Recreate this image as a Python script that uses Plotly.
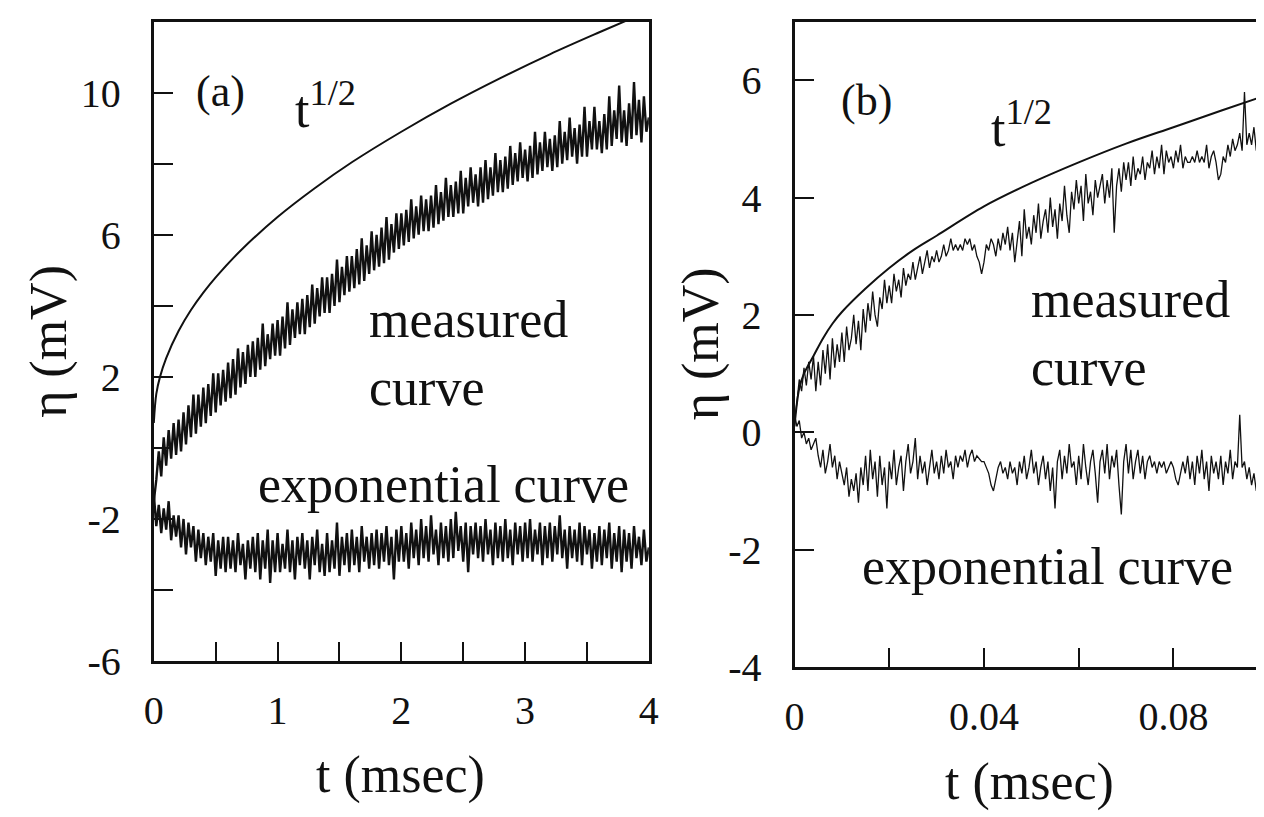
import plotly.graph_objects as go

# ---------------- panel (a) data ----------------
ta_start, ta_step = 0.0, 0.02   # sampling grid of the traces, msec
meas_a = [
    -1.5, -0.9, -0.1, -0.8, 0.3, -0.5, 0.5, -0.3, 0.7, -0.2,
    0.8, -0.1, 1.0, 0.1, 1.2, 0.3, 1.5, 0.4, 1.5, 0.6,
    1.7, 0.7, 1.8, 0.9, 2.1, 1.0, 2.1, 1.2, 2.2, 1.3,
    2.4, 1.4, 2.5, 1.5, 2.8, 1.7, 2.7, 1.8, 2.9, 2.0,
    3.0, 2.0, 3.1, 2.2, 3.5, 2.3, 3.2, 2.5, 3.5, 2.6,
    3.6, 2.6, 3.7, 2.8, 4.1, 2.9, 3.9, 3.1, 4.1, 3.2,
    4.2, 3.2, 4.3, 3.4, 4.6, 3.5, 4.5, 3.7, 4.8, 3.8,
    4.8, 3.8, 4.9, 4.0, 5.3, 4.1, 5.1, 4.3, 5.4, 4.4,
    5.4, 4.5, 5.6, 4.6, 5.9, 4.7, 5.7, 4.9, 6.1, 5.0,
    6.0, 5.1, 6.2, 5.2, 6.5, 5.3, 6.3, 5.5, 6.6, 5.6,
    6.6, 5.7, 6.7, 5.8, 7.0, 5.9, 6.8, 6.0, 7.1, 6.1,
    7.0, 6.1, 7.1, 6.2, 7.4, 6.3, 7.2, 6.4, 7.6, 6.5,
    7.4, 6.5, 7.5, 6.6, 7.8, 6.6, 7.6, 6.8, 7.9, 6.9,
    7.7, 6.8, 7.9, 6.9, 8.1, 7.0, 7.9, 7.1, 8.3, 7.2,
    8.1, 7.2, 8.2, 7.3, 8.5, 7.4, 8.3, 7.5, 8.6, 7.6,
    8.4, 7.5, 8.5, 7.6, 8.9, 7.7, 8.6, 7.8, 8.9, 7.9,
    8.7, 7.8, 8.8, 7.9, 9.2, 8.0, 8.9, 8.1, 9.3, 8.2,
    9.0, 8.0, 9.1, 8.2, 9.6, 8.2, 9.2, 8.4, 9.6, 8.4,
    9.2, 8.3, 9.4, 8.4, 9.9, 8.5, 9.5, 8.7, 10.2, 8.6,
    9.5, 8.5, 9.7, 8.7, 10.3, 8.8, 9.8, 8.6, 9.9, 8.9,
    9.3,
]
expo_a = [
    -1.3, -2.2, -1.6, -2.4, -1.7, -2.3, -1.5, -2.6, -1.9, -2.5,
    -1.9, -2.8, -2.0, -3.0, -2.1, -2.8, -2.2, -3.2, -2.3, -3.1,
    -2.4, -3.3, -2.5, -3.2, -2.4, -3.6, -2.6, -3.4, -2.5, -3.5,
    -2.5, -3.4, -2.6, -3.5, -2.4, -3.3, -2.7, -3.7, -2.6, -3.4,
    -2.5, -3.5, -2.4, -3.7, -2.6, -3.4, -2.3, -3.8, -2.6, -3.5,
    -2.4, -3.5, -2.7, -3.4, -2.3, -3.5, -2.6, -3.7, -2.5, -3.3,
    -2.4, -3.4, -2.6, -3.7, -2.5, -3.3, -2.3, -3.5, -2.7, -3.6,
    -2.4, -3.5, -2.6, -3.4, -2.1, -3.6, -2.5, -3.3, -2.4, -3.5,
    -2.3, -3.3, -2.5, -3.5, -2.2, -3.2, -2.5, -3.4, -2.4, -3.3,
    -2.3, -3.4, -2.4, -3.2, -2.2, -3.3, -2.5, -3.7, -2.3, -3.2,
    -2.2, -3.2, -2.4, -3.4, -2.1, -3.1, -2.3, -3.3, -2.0, -3.1,
    -2.2, -3.2, -1.9, -3.0, -2.3, -3.3, -2.1, -3.1, -2.2, -3.2,
    -2.0, -3.1, -1.8, -2.9, -2.2, -3.2, -2.1, -3.5, -2.2, -3.0,
    -2.1, -3.1, -2.2, -3.2, -2.0, -3.0, -2.3, -3.3, -2.1, -3.1,
    -2.2, -3.2, -2.0, -3.1, -2.3, -3.3, -2.1, -3.0, -2.2, -3.2,
    -2.1, -3.1, -2.0, -3.2, -2.3, -3.0, -2.1, -3.3, -2.2, -3.1,
    -2.1, -3.2, -2.2, -3.0, -1.9, -3.1, -2.3, -3.4, -2.2, -3.1,
    -2.3, -3.2, -2.1, -3.3, -2.2, -3.0, -2.3, -3.4, -2.4, -3.2,
    -2.2, -3.3, -2.3, -3.1, -2.1, -3.4, -2.4, -3.2, -2.2, -3.5,
    -2.3, -3.2, -2.4, -3.4, -2.2, -3.1, -2.5, -3.3, -2.3, -3.2,
    -2.8,
]
sqrt_a_t = [0, 0.02, 0.05, 0.1, 0.2, 0.3, 0.4, 0.5, 0.7, 1.0, 1.3, 1.6,
            2.0, 2.4, 2.8, 3.2, 3.6, 4.0]
sqrt_a_v = [0.7, 1.52, 2.0, 2.53, 3.29, 3.88, 4.37, 4.80, 5.55, 6.5, 7.31,
            8.04, 8.90, 9.69, 10.41, 11.08, 11.70, 12.3]

# ---------------- panel (b) data ----------------
tb_start, tb_step = 0.0, 0.0005
meas_b = [
    0.2, 0.5, 0.9, 0.7, 1.1, 0.8, 1.2, 0.9, 1.3, 0.7,
    1.2, 0.8, 1.4, 1.0, 1.5, 0.9, 1.6, 1.1, 1.5, 1.2,
    1.7, 1.2, 1.8, 1.4, 1.6, 2.0, 1.5, 1.9, 1.4, 2.1,
    1.7, 2.2, 1.9, 2.4, 2.0, 1.8, 2.3, 2.1, 2.6, 2.2,
    2.5, 2.2, 2.7, 2.4, 2.6, 2.3, 2.8, 2.5, 2.7, 2.6,
    2.9, 2.6, 2.8, 3.0, 2.7, 2.9, 3.1, 2.8, 3.0, 2.9,
    3.1, 2.9, 3.0, 3.2, 3.0, 3.1, 3.3, 3.1, 3.2, 3.1,
    3.2, 3.1, 3.3, 3.2, 3.3, 3.1, 3.2, 3.0, 2.9, 2.7,
    2.9, 3.2, 3.1, 3.3, 3.2, 3.0, 3.3, 3.1, 3.4, 3.2,
    3.5, 3.1, 3.4, 2.9, 3.3, 3.6, 3.0, 3.8, 3.3, 3.5,
    3.2, 3.7, 3.4, 3.9, 3.3, 3.6, 3.8, 3.4, 4.0, 3.5,
    3.8, 3.3, 3.9, 3.6, 4.2, 3.7, 3.4, 4.1, 3.8, 4.3,
    3.9, 4.2, 3.6, 4.4, 3.9, 4.1, 3.7, 4.3, 4.0, 4.2,
    4.4, 3.9, 4.3, 4.0, 4.5, 3.4, 4.2, 4.5, 4.1, 4.6,
    4.3, 4.6, 4.2, 4.7, 4.3, 4.5, 4.4, 4.7, 4.3, 4.6,
    4.5, 4.8, 4.4, 4.7, 4.5, 4.9, 4.4, 4.8, 4.6, 4.7,
    4.5, 4.8, 4.6, 4.9, 4.5, 4.7, 4.6, 4.6, 4.7, 4.6,
    4.8, 4.6, 4.7, 4.6, 4.9, 4.5, 4.7, 4.8, 4.6, 4.3,
    4.4, 4.7, 4.6, 4.9, 4.7, 5.0, 4.8, 4.9, 5.1, 4.8,
    5.8, 4.9, 5.1, 4.9, 5.2, 4.8, 5.1, 5.0,
]
expo_b = [
    0.3, 0.1, 0.2, -0.1, 0.0, -0.2, -0.1, -0.3, -0.2, -0.1,
    -0.4, -0.6, -0.3, -0.7, -0.5, -0.2, -0.6, -0.4, -0.8, -0.5,
    -0.7, -0.9, -0.6, -1.1, -0.8, -1.0, -0.7, -1.2, -0.6, -0.9,
    -0.4, -1.0, -0.3, -0.8, -0.5, -1.1, -0.4, -0.9, -0.6, -1.3,
    -0.5, -0.8, -0.3, -0.9, -0.6, -0.4, -1.0, -0.5, -0.2, -0.7,
    -0.5, -0.1, -0.8, -0.4, -0.7, -0.5, -0.9, -0.6, -0.3, -0.7,
    -0.5, -0.8, -0.4, -0.7, -0.3, -0.6, -0.5, -0.8, -0.4, -0.6,
    -0.4, -0.5, -0.3, -0.6, -0.4, -0.3, -0.5, -0.4, -0.45, -0.5,
    -0.5, -0.6, -0.7, -0.9, -1.0, -0.8, -0.6, -0.5, -0.7, -0.6,
    -0.8, -0.5, -0.7, -0.6, -0.9, -0.5, -0.7, -0.4, -0.8, -0.6,
    -0.3, -0.7, -0.5, -0.9, -0.6, -0.4, -0.8, -0.5, -1.0, -0.6,
    -1.3, -0.5, -0.3, -0.8, -0.4, -0.7, -0.2, -0.6, -0.5, -0.9,
    -0.4, -0.8, -0.2, -0.6, -0.9, -0.5, -0.3, -0.7, -1.2, -0.5,
    -0.3, -0.7, -0.2, -0.8, -0.4, -0.6, -0.3, -0.9, -1.4, -0.5,
    -0.2, -0.7, -0.3, -0.8, -0.5, -0.3, -0.7, -0.4, -0.8, -0.5,
    -0.4, -0.6, -0.5, -0.7, -0.5, -0.6, -0.5, -0.7, -0.6, -0.5,
    -0.6, -0.8, -0.9, -0.7, -0.5, -0.7, -0.4, -0.8, -0.5, -0.9,
    -0.4, -0.7, -0.3, -0.8, -0.5, -1.0, -0.4, -0.7, -0.5, -0.8,
    -0.4, -0.9, -0.5, -0.7, -0.3, -0.8, -0.5, -0.6, 0.3, -0.6,
    -0.5, -0.8, -0.6, -0.9, -0.7, -1.0, -0.8, -0.9,
]
sqrt_b_t = [0, 0.001, 0.002, 0.004, 0.006, 0.008, 0.01, 0.015, 0.02, 0.025,
            0.03, 0.04, 0.05, 0.06, 0.07, 0.08, 0.09, 0.0987]
sqrt_b_v = [0.1, 0.75, 1.0, 1.3, 1.6, 1.85, 2.05, 2.45, 2.8, 3.1,
            3.35, 3.85, 4.25, 4.6, 4.92, 5.2, 5.48, 5.72]

# tick definitions (labelled ticks; unlabelled ones drawn as minor ticks)
xa_ticks = [0, 1, 2, 3, 4]
xa_text = ["0", "1", "2", "3", "4"]
xa_minor = 0.5
ya_ticks = [-6, -2, 2, 6, 10]
ya_text = ["-6", "-2", "2", "6", "10"]
ya_minor = 2
xb_ticks = [0, 0.04, 0.08]
xb_text = ["0", "0.04", "0.08"]
xb_minor = 0.02
yb_ticks = [-4, -2, 0, 2, 4, 6]
yb_text = ["-4", "-2", "0", "2", "4", "6"]

ta = [round(ta_start + i * ta_step, 4) for i in range(len(meas_a))]
tb = [round(tb_start + i * tb_step, 5) for i in range(len(meas_b))]

W, H = 1264, 817
FONT = "Liberation Serif"
BLACK = "#111111"

fig = go.Figure()
line_a = dict(color=BLACK, width=2.4)
line_b = dict(color=BLACK, width=1.3)
fig.add_trace(go.Scatter(x=ta, y=meas_a, mode="lines", line=line_a, xaxis="x", yaxis="y"))
fig.add_trace(go.Scatter(x=ta, y=expo_a, mode="lines", line=line_a, xaxis="x", yaxis="y"))
fig.add_trace(go.Scatter(x=sqrt_a_t, y=sqrt_a_v, mode="lines",
                         line=dict(color=BLACK, width=2, shape="spline"), xaxis="x", yaxis="y"))
fig.add_trace(go.Scatter(x=tb, y=meas_b, mode="lines", line=line_b, xaxis="x2", yaxis="y2"))
fig.add_trace(go.Scatter(x=tb, y=expo_b, mode="lines", line=line_b, xaxis="x2", yaxis="y2"))
fig.add_trace(go.Scatter(x=sqrt_b_t, y=sqrt_b_v, mode="lines",
                         line=dict(color=BLACK, width=2, shape="spline"), xaxis="x2", yaxis="y2"))


def px(x):
    return x / W


def py(y):
    return 1 - y / H


def minor(d):
    return dict(dtick=d, ticks="inside", ticklen=19, tickwidth=2,
                tickcolor=BLACK, showgrid=False)


axis_common = dict(showline=True, linecolor=BLACK, linewidth=3, ticks="inside",
                   ticklen=19, tickwidth=2, tickcolor=BLACK, showgrid=False,
                   zeroline=False, tickfont=dict(family=FONT, size=40, color=BLACK),
                   tickmode="array")

fig.update_layout(
    width=W, height=H, autosize=False,
    margin=dict(l=0, r=0, t=0, b=0),
    paper_bgcolor="white", plot_bgcolor="white",
    showlegend=False,
    xaxis=dict(axis_common, domain=[px(138), px(641)], range=[0, 4], anchor="y",
               mirror=True, tickvals=xa_ticks, ticktext=xa_text, ticklabelstandoff=12,
               minor=minor(xa_minor)),
    yaxis=dict(axis_common, domain=[py(672), py(14)], range=[-6, 12], anchor="x",
               mirror=True, tickvals=ya_ticks, ticktext=ya_text, ticklabelstandoff=22,
               minor=minor(ya_minor)),
    xaxis2=dict(axis_common, domain=[px(789), 1.0], range=[0, 0.0987], anchor="y2",
                mirror=True, tickvals=xb_ticks, ticktext=xb_text, ticklabelstandoff=12,
                minor=minor(xb_minor)),
    yaxis2=dict(axis_common, domain=[py(678), py(14)], range=[-4, 7], anchor="x2",
                mirror=False, tickvals=yb_ticks, ticktext=yb_text, ticklabelstandoff=22),
)

big = dict(family=FONT, size=52, color=BLACK)
ann = [
    dict(text="η (mV)", x=px(32), y=py(343), textangle=-90),
    dict(text="t (msec)", x=px(389), y=py(789)),
    dict(text="η (mV)", x=px(694), y=py(346), textangle=-90),
    dict(text="t (msec)", x=px(1028), y=py(796)),
    dict(text="(a)", x=px(206), y=py(86), size=44),
    dict(text="t<sup>1/2</sup>", x=px(312), y=py(100)),
    dict(text="measured<br>curve", x=px(355), y=py(355), align="left", xanchor="left"),
    dict(text="exponential curve", x=px(432), y=py(490)),
    dict(text="(b)", x=px(862), y=py(95), size=44),
    dict(text="t<sup>1/2</sup>", x=px(1020), y=py(120)),
    dict(text="measured<br>curve", x=px(1027), y=py(335), align="left", xanchor="left"),
    dict(text="exponential curve", x=px(1046), y=py(575)),
]
annotations = []
for a in ann:
    f = dict(big)
    if "size" in a:
        f["size"] = a.pop("size")
    d = dict(xref="paper", yref="paper", showarrow=False, font=f,
             xanchor=a.pop("xanchor", "center"), yanchor="middle")
    d.update(a)
    annotations.append(d)
fig.update_layout(annotations=annotations)

fig.write_html("out.html")
